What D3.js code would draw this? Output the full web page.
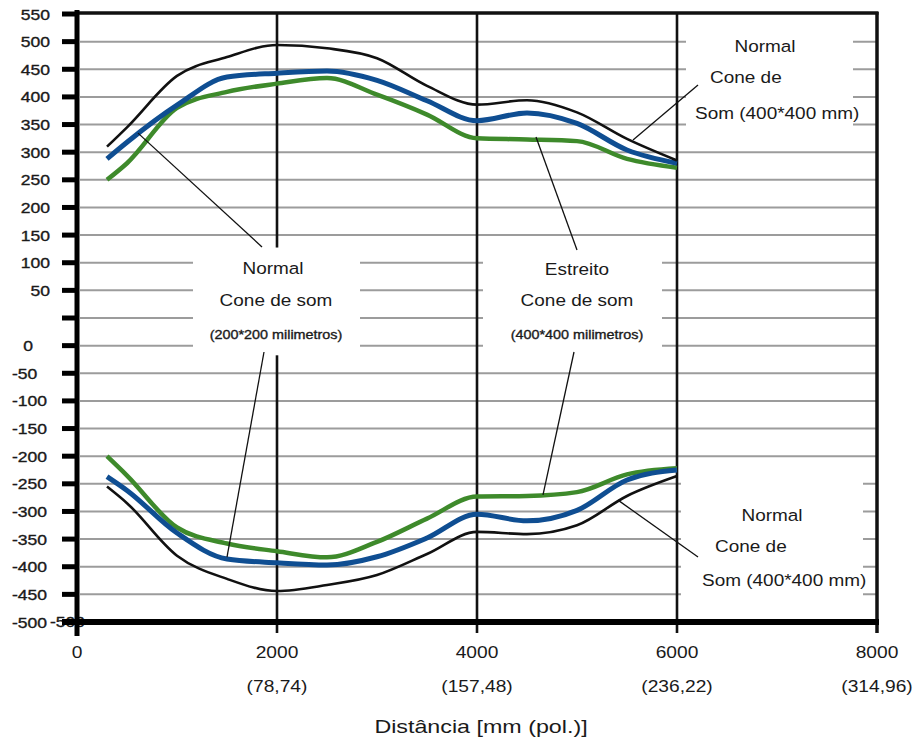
<!DOCTYPE html>
<html>
<head>
<meta charset="utf-8">
<script src="https://cdn.jsdelivr.net/npm/d3@7"></script>
<style>
  html, body { margin: 0; padding: 0; background: #fff; }
  svg { display: block; }
  text { font-family: "Liberation Sans", Arial, sans-serif; fill: #1a1a1a; }
  .heavy text { stroke: #1a1a1a; stroke-width: 0.35px; }
</style>
</head>
<body>
<svg id="chart" width="917" height="742"></svg>
<script>
// ---------------- data ----------------
const distance = [300, 500, 1000, 1500, 2000, 2500, 3000, 3500, 4000, 4500, 5000, 5500, 6000];
const upperBlack = [310, 345, 438, 472, 494, 488, 470, 420, 386, 394, 372, 324, 285];
const upperBlue  = [288, 318, 385, 436, 443, 447, 430, 393, 357, 371, 352, 304, 280];
const upperGreen = [250, 280, 380, 409, 424, 434, 404, 368, 325, 323, 320, 288, 272];
const lowerBlack = [-255, -285, -380, -422, -444, -433, -415, -377, -337, -341, -325, -272, -236];
const lowerBlue  = [-237, -262, -339, -386, -393, -397, -382, -348, -305, -317, -298, -243, -225];
const lowerGreen = [-200, -235, -329, -358, -372, -383, -355, -313, -273, -272, -265, -233, -222];

const yTickLabels = ["550","500","450","400","350","300","250","200","150","100","50","",
                     "0","-50","-100","-150","-200","-250","-300","-350","-400","-450","-500"];
const xTickValues = [0, 2000, 4000, 6000, 8000];
const xTickLabels = ["0", "2000", "4000", "6000", "8000"];
const xTickInches = ["", "(78,74)", "(157,48)", "(236,22)", "(314,96)"];
const xTitle = "Distância [mm (pol.)]";

// annotation boxes (x in mm, s = tick slot)
const boxes = [
  {x0: 1160, x1: 2830, s0: 8.45, s1: 12.35},
  {x0: 4060, x1: 5850, s0: 8.45, s1: 12.35},
  {x0: 6090, x1: 7760, s0: 0.5,  s1: 4.45},
  {x0: 6040, x1: 7860, s0: 16.3, s1: 21.85}
];
const notes = [
  {t: "Normal", x: 1960, s: 9.41, a: "middle", f: 16.5},
  {t: "Cone de som", x: 1990, s: 10.57, a: "middle", f: 16.5},
  {t: "(200*200 milimetros)", x: 1990, s: 11.76, a: "middle", f: 12.5},
  {t: "Estreito", x: 5000, s: 9.45, a: "middle", f: 16.5},
  {t: "Cone de som", x: 5000, s: 10.57, a: "middle", f: 16.5},
  {t: "(400*400 milimetros)", x: 5000, s: 11.76, a: "middle", f: 12.5},
  {t: "Normal", x: 6880, s: 1.38, a: "middle", f: 16.5},
  {t: "Cone de", x: 6330, s: 2.5, a: "start", f: 16.5},
  {t: "Som (400*400 mm)", x: 6180, s: 3.8, a: "start", f: 16.5},
  {t: "Normal", x: 6950, s: 18.35, a: "middle", f: 16.5},
  {t: "Cone de", x: 6380, s: 19.47, a: "start", f: 16.5},
  {t: "Som (400*400 mm)", x: 6250, s: 20.7, a: "start", f: 16.5}
];
const connectors = [
  [[1850, 8.43], [610, 4.31]],
  [[1870, 12.23], [1500, 19.65]],
  [[5000, 8.54], [4590, 4.45]],
  [[4970, 12.23], [4660, 17.40]],
  [[6210, 2.57], [5560, 4.56]],
  [[6210, 19.65], [5410, 17.59]]
];

// ---------------- scales ----------------
const svg = d3.select("#chart");
const x = d3.scaleLinear().domain([0, 8000]).range([77, 877]);
const slot = d3.scaleLinear().domain([0, 22]).range([14, 622]);
const yU = d3.scaleLinear().domain([550, 0]).range([slot(0), slot(11)]);
const yL = d3.scaleLinear().domain([0, -500]).range([slot(12), slot(22)]);

function stretchedText(g, str, px, py, anchor, size, sx) {
  g.append("g").attr("transform", `translate(${px},${py}) scale(${sx},1)`)
    .append("text").attr("text-anchor", anchor).attr("font-size", size).text(str);
}

// grid lines
svg.append("g").selectAll("line").data(d3.range(1, 22)).join("line")
  .attr("x1", 80).attr("x2", x(8000))
  .attr("y1", d => slot(d)).attr("y2", d => slot(d))
  .attr("stroke", "#9c9c9c").attr("stroke-width", 2);

// vertical lines
svg.append("g").selectAll("line").data([2000, 4000, 6000]).join("line")
  .attr("x1", d => x(d)).attr("x2", d => x(d))
  .attr("y1", slot(0)).attr("y2", 633)
  .attr("stroke", "#111").attr("stroke-width", 2.6);

// white annotation boxes
svg.append("g").selectAll("rect").data(boxes).join("rect")
  .attr("x", d => x(d.x0)).attr("width", d => x(d.x1) - x(d.x0))
  .attr("y", d => slot(d.s0)).attr("height", d => slot(d.s1) - slot(d.s0))
  .attr("fill", "#fff");

const labelsG = svg.append("g").attr("class", "heavy");

// duplicate overlapped label near axis
stretchedText(labelsG, "-500", 50, 627, "start", 15, 1.17);

// curves
const line = (ys, yScale) => d3.line().curve(d3.curveMonotoneX)
  .x((d, i) => x(distance[i])).y(d => yScale(d))(ys);
const series = [
  {v: upperGreen, s: yU, c: "#3e8a2b", w: 4.5},
  {v: upperBlue, s: yU, c: "#0f4e92", w: 5},
  {v: upperBlack, s: yU, c: "#111", w: 2.6},
  {v: lowerGreen, s: yL, c: "#3e8a2b", w: 4.5},
  {v: lowerBlue, s: yL, c: "#0f4e92", w: 5},
  {v: lowerBlack, s: yL, c: "#111", w: 2.6}
];
svg.append("g").selectAll("path").data(series).join("path")
  .attr("d", d => line(d.v, d.s))
  .attr("fill", "none").attr("stroke", d => d.c).attr("stroke-width", d => d.w)
  .attr("stroke-linejoin", "round");

// connectors
svg.append("g").selectAll("line").data(connectors).join("line")
  .attr("x1", d => x(d[0][0])).attr("y1", d => slot(d[0][1]))
  .attr("x2", d => x(d[1][0])).attr("y2", d => slot(d[1][1]))
  .attr("stroke", "#111").attr("stroke-width", 1.3);

// frame
svg.append("line").attr("x1", 77).attr("x2", x(8000) + 1.5).attr("y1", 13).attr("y2", 13)
  .attr("stroke", "#111").attr("stroke-width", 3.5);
svg.append("line").attr("x1", x(8000)).attr("x2", x(8000)).attr("y1", 12).attr("y2", 633)
  .attr("stroke", "#111").attr("stroke-width", 3.5);
svg.append("line").attr("x1", 62).attr("x2", x(8000) + 2).attr("y1", 622).attr("y2", 622)
  .attr("stroke", "#000").attr("stroke-width", 6);
svg.append("line").attr("x1", 77).attr("x2", 77).attr("y1", 10).attr("y2", 636)
  .attr("stroke", "#000").attr("stroke-width", 5);

// y ticks
svg.append("g").selectAll("line").data(d3.range(0, 23)).join("line")
  .attr("x1", 62).attr("x2", 77)
  .attr("y1", d => slot(d)).attr("y2", d => slot(d))
  .attr("stroke", "#000").attr("stroke-width", 5);

// y labels
const yG = svg.append("g").attr("class", "heavy");
yTickLabels.forEach((lab, i) => {
  if (!lab) return;
  const py = slot(i) + 5.5;
  if (i <= 10) stretchedText(yG, lab, 50, py, "end", 15, 1.17);
  else if (lab === "0") stretchedText(yG, lab, 28, py, "middle", 15, 1.17);
  else stretchedText(yG, lab, 12, py, "start", 15, 1.17);
});

// x labels
xTickValues.forEach((v, i) => {
  stretchedText(svg, xTickLabels[i], x(v), 658, "middle", 16, 1.2);
  if (xTickInches[i]) stretchedText(svg, xTickInches[i], x(v), 692, "middle", 16, 1.2);
});
stretchedText(svg, xTitle, 481, 733, "middle", 17.5, 1.33);

// notes
const notesG = svg.append("g");
notes.forEach(n => stretchedText(n.f < 14 ? labelsG : notesG, n.t, x(n.x), slot(n.s), n.a, n.f, 1.15));
</script>
</body>
</html>
